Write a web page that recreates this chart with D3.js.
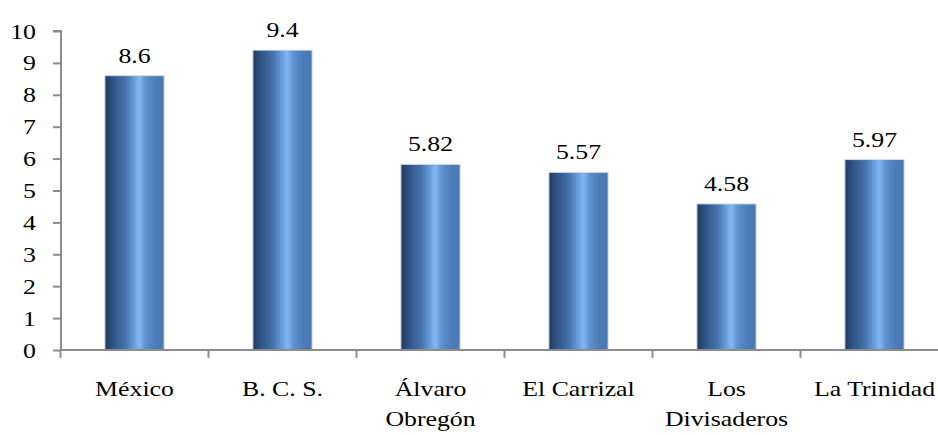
<!DOCTYPE html>
<html>
<head>
<meta charset="utf-8">
<script src="https://cdn.jsdelivr.net/npm/d3@7"></script>
<style>
  html, body { margin: 0; padding: 0; background: #fff; }
  svg { display: block; }
  text { font-family: "Liberation Serif", "Times New Roman", serif; fill: #000; }
</style>
</head>
<body>
<script>
// Categories (each entry holds the lines of its axis label) and their values
const categories = [["México"], ["B. C. S."], ["Álvaro", "Obregón"], ["El Carrizal"], ["Los", "Divisaderos"], ["La Trinidad"]];
const values = [8.6, 9.4, 5.82, 5.57, 4.58, 5.97];
const valueLabels = ["8.6", "9.4", "5.82", "5.57", "4.58", "5.97"];
const yTicks = [0, 1, 2, 3, 4, 5, 6, 7, 8, 9, 10];

const W = 938, H = 435;
const fontSize = 21.5, stretch = 1.2;

const svg = d3.select("body").append("svg").attr("width", W).attr("height", H);

const x = d3.scaleBand().domain(d3.range(categories.length)).range([60.5, 948.5]).paddingInner(0.6).paddingOuter(0.3);
const y = d3.scaleLinear().domain([0, 10]).range([350, 31]);

// Horizontal cylinder-like shading for the bars
const grad = svg.append("defs").append("linearGradient").attr("id", "barGrad")
  .attr("x1", "0%").attr("x2", "100%").attr("y1", "0%").attr("y2", "0%");
[[0, "#203a5e"], [0.12, "#2d5082"], [0.35, "#4674ae"], [0.5, "#6a9fe0"], [0.58, "#82b7f5"], [0.68, "#5f92d2"], [0.85, "#4c7cb8"], [1, "#4877b2"]]
  .forEach(([o, c]) => grad.append("stop").attr("offset", o).attr("stop-color", c));

// Bars
svg.append("g").selectAll("rect").data(values).join("rect")
  .attr("x", (d, i) => x(i))
  .attr("y", d => y(d))
  .attr("width", x.bandwidth())
  .attr("height", d => y(0) - y(d))
  .attr("fill", "url(#barGrad)")
  .attr("stroke", "#d6dde6")
  .attr("stroke-width", 1);

const stretchedText = (g, tx, ty, str, anchor) =>
  g.append("text")
    .attr("transform", `translate(${tx},${ty}) scale(${stretch},1)`)
    .attr("text-anchor", anchor)
    .attr("font-size", fontSize)
    .attr("font-family", "'Liberation Serif', 'Times New Roman', serif")
    .text(str);

// Value labels above bars
const vl = svg.append("g");
values.forEach((v, i) => stretchedText(vl, x(i) + x.bandwidth() / 2, y(v) - 13, valueLabels[i], "middle"));

// Y axis
const yAxis = svg.append("g").attr("transform", "translate(61,0)")
  .call(d3.axisLeft(y).tickValues(yTicks).tickSize(8).tickFormat(""));
yAxis.select(".domain").attr("stroke", "#8c8c8c").attr("stroke-width", 2).attr("d", `M-8,${y(10)}H0V${y(0)}`);
yAxis.selectAll(".tick line").attr("stroke", "#8c8c8c").attr("stroke-width", 2);
const yl = svg.append("g");
yTicks.forEach(t => stretchedText(yl, 36, y(t) + 7.5, String(t), "end"));

// X axis with boundary ticks between categories
const xb = svg.append("g");
xb.append("line").attr("x1", 60).attr("x2", W).attr("y1", 350).attr("y2", 350)
  .attr("stroke", "#8c8c8c").attr("stroke-width", 2);
const step = x.step();
d3.range(categories.length + 1).forEach(i => {
  const bx = x(0) - x.paddingOuter() * step + i * step;
  xb.append("line").attr("x1", bx).attr("x2", bx).attr("y1", 350).attr("y2", 358)
    .attr("stroke", "#8c8c8c").attr("stroke-width", 2);
});

// Category labels
const xl = svg.append("g");
categories.forEach((lines, i) => {
  lines.forEach((ln, k) => stretchedText(xl, x(i) + x.bandwidth() / 2, 396 + k * 30, ln, "middle"));
});
</script>
</body>
</html>
